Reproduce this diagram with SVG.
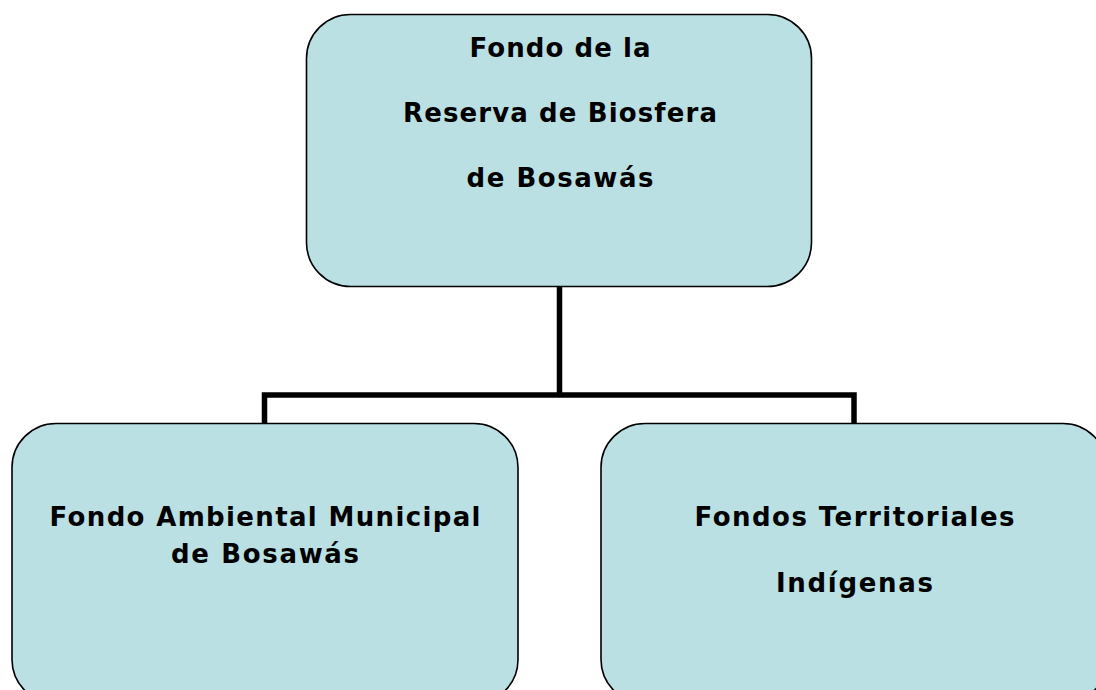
<svg xmlns="http://www.w3.org/2000/svg" width="1096" height="690" viewBox="0 0 1096 690">
  <style>
    .box { fill: #BAE0E3; stroke: #000000; stroke-width: 1.6; }
    .lbl { font-family: "DejaVu Sans", Verdana, sans-serif; font-weight: bold; font-size: 26px; fill: #000000; text-anchor: middle; }
    .conn { fill: none; stroke: #000000; stroke-width: 5.5; stroke-linejoin: miter; }
  </style>
  <rect x="0" y="0" width="1096" height="690" fill="#FFFFFF"/>
  <g id="connectors">
    <path class="conn" d="M559.5,287 L559.5,395 M264.5,423 L264.5,395 L854,395 L854,423"/>
  </g>
  <g id="node-fondo-reserva">
    <rect class="box" x="306.5" y="14.5" width="505" height="272" rx="44" ry="44"/>
    <text class="lbl" x="560" y="57" textLength="181" lengthAdjust="spacing">Fondo de la</text>
    <text class="lbl" x="560" y="122" textLength="314" lengthAdjust="spacing">Reserva de Biosfera</text>
    <text class="lbl" x="560" y="187" textLength="187" lengthAdjust="spacing">de Bosawás</text>
  </g>
  <g id="node-fondo-ambiental">
    <rect class="box" x="12" y="423.5" width="506" height="280" rx="44" ry="44"/>
    <text class="lbl" x="265" y="526" textLength="431" lengthAdjust="spacing">Fondo Ambiental Municipal</text>
    <text class="lbl" x="265" y="563" textLength="188" lengthAdjust="spacing">de Bosawás</text>
  </g>
  <g id="node-fondos-territoriales">
    <rect class="box" x="601" y="423.5" width="506" height="280" rx="44" ry="44"/>
    <text class="lbl" x="854.5" y="526" textLength="320" lengthAdjust="spacing">Fondos Territoriales</text>
    <text class="lbl" x="854.5" y="592" textLength="157" lengthAdjust="spacing">Indígenas</text>
  </g>
</svg>
